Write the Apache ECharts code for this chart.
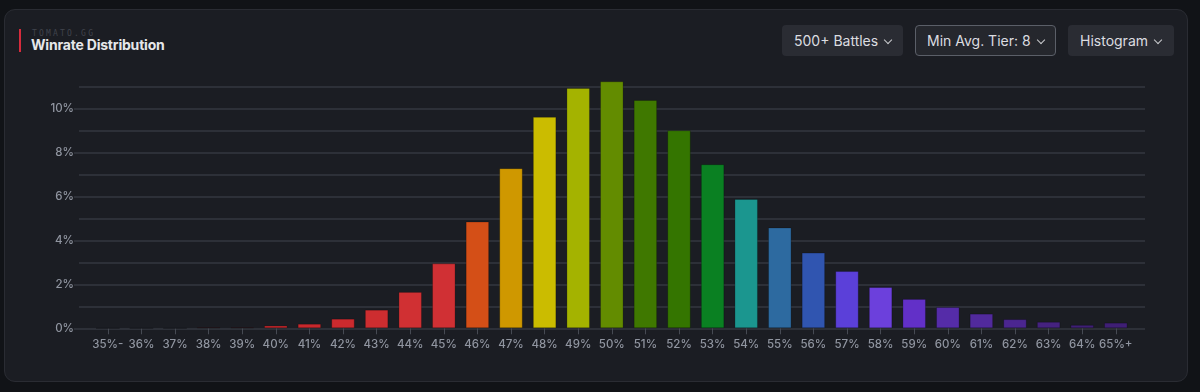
<!DOCTYPE html>
<html><head><meta charset="utf-8">
<script src="https://cdn.jsdelivr.net/npm/echarts@6/dist/echarts.min.js"></script>
<style>
html,body{margin:0;padding:0;width:1200px;height:392px;background:#111317;overflow:hidden;font-family:Inter,"Noto Sans",sans-serif;}
#card{position:absolute;left:4px;top:9px;width:1184px;height:373px;background:#1b1d23;border:1px solid #2a2c33;border-radius:11px;box-sizing:border-box;}
#chart{position:absolute;left:0;top:0;width:1200px;height:392px;}
#accent{position:absolute;left:19px;top:29px;width:2px;height:23px;background:#d62b3c;}
#brand{position:absolute;left:32px;top:29px;font-family:"DejaVu Sans Mono",monospace;font-size:8px;letter-spacing:2.2px;color:#40434c;}
#title{position:absolute;left:31px;top:36px;font-size:14px;font-weight:700;color:#e6e7ea;letter-spacing:-0.2px;}
.btn{position:absolute;top:25px;height:31px;background:#2a2c33;border-radius:4px;color:#dcdde0;font-size:14px;line-height:31px;box-sizing:border-box;padding-left:12px;}
.btn.sel{border:1px solid #5b5f68;background:#25272d;line-height:29px;padding-left:11px;}
.chev{display:inline-block;width:5px;height:5px;border-right:1px solid #c8c9cc;border-bottom:1px solid #c8c9cc;transform:rotate(45deg);margin-left:7px;position:relative;top:-3px;}
</style></head>
<body>
<div id="card"></div>
<div id="accent"></div>
<div id="brand">TOMATO.GG</div>
<div id="title">Winrate Distribution</div>
<div class="btn" style="left:782px;width:121px;">500+ Battles<span class="chev"></span></div>
<div class="btn sel" style="left:915px;width:141px;">Min Avg. Tier: 8<span class="chev"></span></div>
<div class="btn" style="left:1068px;width:106px;">Histogram<span class="chev"></span></div>
<div id="chart"></div>
<script>
const categories = ['35%-','36%','37%','38%','39%','40%','41%','42%','43%','44%','45%','46%','47%','48%','49%','50%','51%','52%','53%','54%','55%','56%','57%','58%','59%','60%','61%','62%','63%','64%','65%+'];
const values = [0,0,0,0.05,0.05,0.13,0.21,0.44,0.85,1.66,2.96,4.87,7.30,9.64,10.96,11.26,10.41,9.03,7.48,5.90,4.60,3.45,2.61,1.88,1.34,0.97,0.67,0.42,0.30,0.16,0.26];
const barColors = ['#c0282c','#c0282c','#c0282c','#c0262b','#c0262b','#c4262b','#c8282c','#cb2a2e','#cd2d30','#d03033','#d03034','#d44f17','#cf9800','#cbbc00','#a4b300','#638c00','#3f7800','#347500','#0a8022','#1b968f','#2d6aa0','#3055b0','#5b40d9','#6c40dc','#6230c8','#552ca8','#512a9c','#4b2690','#45227f','#3f1f75','#3f1f75'];
const yTicks = [0,2,4,6,8,10];

const chart = echarts.init(document.getElementById('chart'), null, {renderer:'canvas'});
const gridColor = '#2d3038';
const labelColor = '#9095a0';
chart.setOption({
  backgroundColor: 'transparent',
  animation: false,
  grid: [
    {left:79, top:87, width:1066, height:241.3},
    {left:91, top:87, width:1041.6, height:241.3}
  ],
  xAxis: [
    {gridIndex:0, type:'value', min:0, max:1, show:false},
    {gridIndex:1, type:'category', data:categories,
     axisLine:{show:false},
     axisTick:{show:true, alignWithLabel:true, length:6, lineStyle:{color:'#464a53', width:1}},
     axisLabel:{color:labelColor, fontSize:11.5, fontWeight:500, margin:10, fontFamily:'Inter', interval:0}}
  ],
  yAxis: [
    {gridIndex:0, type:'value', min:0, max:11, interval:1,
     axisLine:{show:false}, axisTick:{show:false}, axisLabel:{show:false},
     splitLine:{show:true, lineStyle:{color:gridColor, width:2}}},
    {gridIndex:0, type:'value', min:0, max:11, interval:1, position:'left',
     axisLine:{show:false}, splitLine:{show:false},
     axisTick:{show:true, length:5, customValues:yTicks, lineStyle:{color:gridColor, width:2}},
     axisLabel:{customValues:yTicks, formatter:v=>v+'%', color:labelColor, fontSize:11.5, fontWeight:500, margin:5, fontFamily:'Inter'}},
    {gridIndex:1, type:'value', min:0, max:11, show:false}
  ],
  series: [{
    type:'bar', xAxisIndex:1, yAxisIndex:2,
    clip:false,
    barWidth:'70%',
    data: values.map((v,i)=>({value:v, itemStyle:{color:barColors[i]}})),
    itemStyle:{borderColor:'rgba(0,0,0,0.22)', borderWidth:1}
  }]
});
</script>
</body></html>
